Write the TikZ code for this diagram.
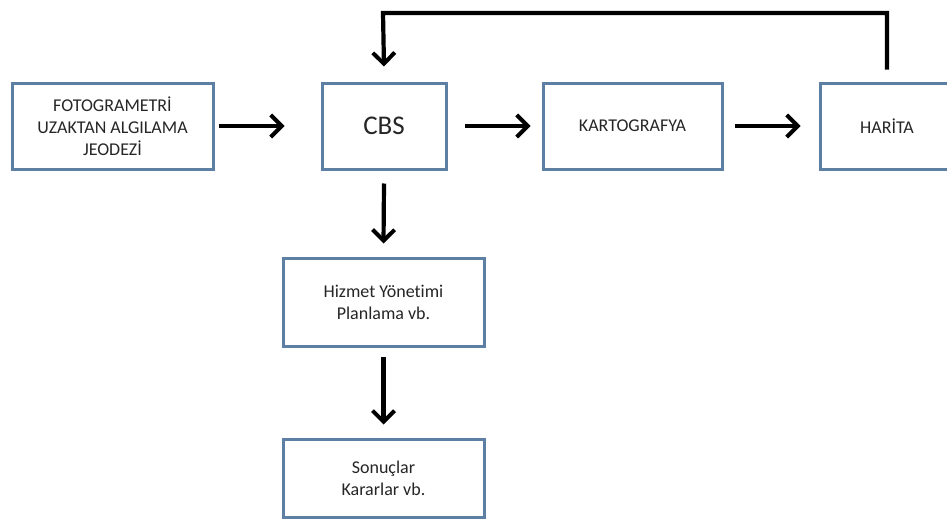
\documentclass[tikz,border=0pt]{standalone}
\usepackage{fontspec}
\setmainfont{Carlito}[Ligatures=NoCommon]
\usetikzlibrary{arrows.meta}
\definecolor{boxline}{RGB}{92,127,163}
\tikzset{
  flowbox/.style={draw=boxline, line width=3pt, fill=white, align=center,
    font=\fontsize{18}{22}\selectfont, text=black!85, inner sep=0pt},
  flowarrow/.style={line width=4.2pt, draw=black,
    -{Straight Barb[length=11pt,width=22pt,line width=4pt]}},
}
\begin{document}
\begin{tikzpicture}[x=1pt,y=-1pt]
\useasboundingbox (0,0) rectangle (947,527);
% process boxes
\node[flowbox, minimum width=201pt, minimum height=86pt] (src) at (112.5,126) {FOTOGRAMETRİ\\UZAKTAN ALGILAMA\\JEODEZİ};
\node[flowbox, minimum width=124pt, minimum height=86pt, font=\fontsize{27}{32}\selectfont] (cbs) at (384,126) {CBS};
\node[flowbox, minimum width=179pt, minimum height=86pt] (kart) at (632.5,126) {KARTOGRAFYA};
\node[flowbox, minimum width=134pt, minimum height=86pt] (har) at (887,126) {HARİTA};
\node[flowbox, minimum width=201pt, minimum height=88pt] (hiz) at (383.5,302) {Hizmet Yönetimi\\Planlama vb.};
\node[flowbox, minimum width=201pt, minimum height=78pt] (son) at (383.5,478) {Sonuçlar\\Kararlar vb.};
% connector end points
\coordinate (srcE) at ([xshift=4pt]src.east);
\coordinate (cbsW) at ([xshift=-36pt]cbs.west);
\coordinate (cbsE) at ([xshift=17pt]cbs.east);
\coordinate (kartW) at ([xshift=-11pt]kart.west);
\coordinate (kartE) at ([xshift=11pt]kart.east);
\coordinate (harW) at ([xshift=-18pt]har.west);
\coordinate (cbsS) at ([yshift=-13pt]cbs.south);
\coordinate (hizN) at ([yshift=13pt]hiz.north);
\coordinate (hizS) at ([yshift=-9pt]hiz.south);
\coordinate (sonN) at ([yshift=13pt]son.north);
\coordinate (harN) at ([yshift=12pt]har.north);
\coordinate (cbsN) at ([yshift=15pt]cbs.north);
% connectors
\draw[flowarrow] (srcE) -- (cbsW);
\draw[flowarrow] (cbsE) -- (kartW);
\draw[flowarrow] (kartE) -- (harW);
\draw[flowarrow] (cbsS) -- (hizN);
\draw[flowarrow] (hizS) -- (sonN);
\draw[flowarrow] (harN) -- (887,13) -- (383,13) -- (cbsN);
\end{tikzpicture}
\end{document}
